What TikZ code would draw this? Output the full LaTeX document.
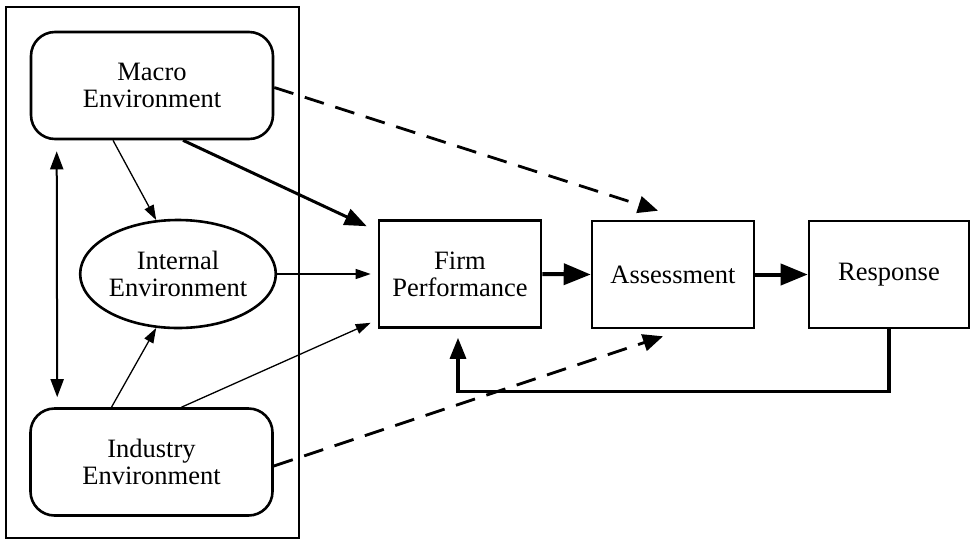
\documentclass[tikz,border=0pt]{standalone}
\usepackage{fontspec}
\setmainfont{Liberation Serif}
\usetikzlibrary{arrows.meta,shapes.geometric,calc}
\begin{document}
\begin{tikzpicture}[x=1pt,y=-1pt,
  every node/.style={font=\fontsize{26.5}{27}\selectfont, align=center, inner sep=0pt},
  envbox/.style={draw, line width=2.6pt, rounded corners=24pt, minimum width=242pt, minimum height=107pt},
  envell/.style={draw, ellipse, line width=2.6pt, minimum width=190pt, minimum height=108pt},
  stagebox/.style={draw, line width=2.6pt, minimum width=162pt, minimum height=107pt},
  thinarr/.style={line width=1.3pt, -{Triangle[length=15pt,width=10pt]}},
  boldarr/.style={line width=3pt, -{Triangle[length=22pt,width=17pt]}},
  flowarr/.style={line width=4pt, -{Triangle[length=27pt,width=21pt]}},
  dasharr/.style={line width=2.8pt, dash pattern=on 20pt off 12pt, -{Triangle[length=20pt,width=17pt]}},
  duoarr/.style={line width=2pt, {Triangle[length=18pt,width=13pt]}-{Triangle[length=18pt,width=13pt]}}
]
\useasboundingbox (0,0) rectangle (970,542);
\node[draw, line width=1.2pt, minimum width=293pt, minimum height=531pt] (frame) at (152.5,272.5) {};

\node[envbox] (macro) at (152,85.5) {Macro\\Environment};
\node[envbox] (industry) at (151.5,462) {Industry\\Environment};
\node[envell] (internal) at (178,274) {Internal\\Environment};

\node[stagebox] (firm) at (460,274) {Firm\\Performance};
\node[stagebox] (assess) at (673,274.5) {Assessment};
\node[stagebox, minimum width=160pt] (resp) at (889,274.5) {Response};

% left column arrows
\draw[duoarr] ([xshift=27pt,yshift=-11pt]macro.south west) -- ([xshift=28pt,yshift=10pt]industry.north west);
\draw[thinarr] ([xshift=-39pt]macro.south) -- (internal.112);
\draw[thinarr] ([xshift=-40pt]industry.north) -- (internal.248);

% into firm performance
\draw[boldarr] ([xshift=31pt]macro.south) -- ([xshift=-11pt,yshift=-7pt]firm.north west);
\draw[thinarr] (internal.east) -- ([xshift=-7pt]firm.west);
\draw[thinarr] ([xshift=30pt]industry.north) -- ([xshift=-7pt,yshift=6pt]firm.south west);

% dashed into assessment
\draw[dasharr] ([yshift=-2pt]macro.east) -- ([xshift=-15pt,yshift=9pt]assess.north);
\draw[dasharr] ([yshift=-4pt]industry.east) -- ([xshift=-10pt,yshift=-7pt]assess.south);

% main flow
\draw[flowarr] (firm.east) -- (assess.west);
\draw[flowarr] (assess.east) -- (resp.west);

% feedback
\draw[line width=3.2pt, -{Triangle[length=21pt,width=16pt]}] (resp.south) -- ++(0,62) -| ([xshift=-2pt,yshift=-9pt]firm.south);
\end{tikzpicture}
\end{document}
